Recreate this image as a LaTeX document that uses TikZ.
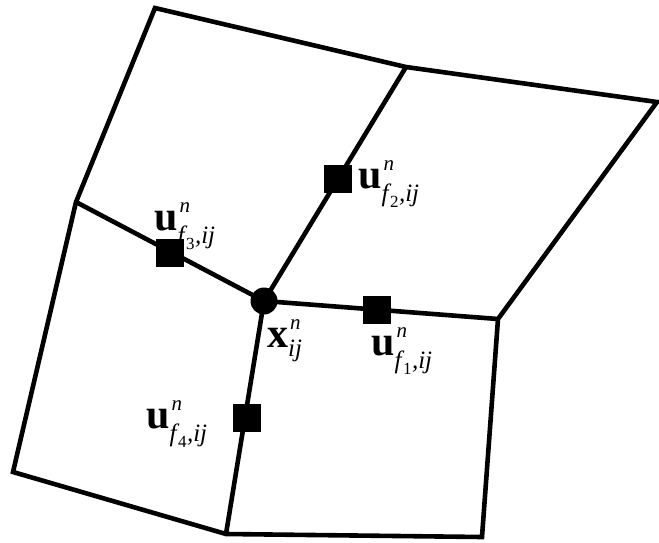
\documentclass[tikz,border=0pt]{standalone}
\usepackage{fontspec}
\setmainfont{Liberation Serif}
\newcommand{\ulab}[1]{\fontsize{42}{42}\selectfont\textbf{u}\rlap{\raisebox{18pt}{\fontsize{21}{21}\selectfont\itshape \kern2pt n}}\raisebox{-13pt}{\fontsize{25}{25}\selectfont\itshape f\kern1.5pt\raisebox{-6pt}{\fontsize{17}{17}\selectfont\upshape #1}\kern0.5pt,ij}}
\newcommand{\xlab}{\fontsize{42}{42}\selectfont\textbf{x}\rlap{\raisebox{18pt}{\fontsize{21}{21}\selectfont\itshape \kern2pt n}}\raisebox{-9pt}{\fontsize{25}{25}\selectfont\itshape ij}}
\tikzset{
  edge/.style={line width=4.6pt, line join=miter},
  facebox/.style={fill=black, minimum size=28pt, inner sep=0pt, outer sep=0pt},
  nodedot/.style={circle, fill=black, minimum size=27pt, inner sep=0pt, outer sep=0pt},
  lab/.style={inner sep=0pt, anchor=base west}
}
\begin{document}
\begin{tikzpicture}[x=1pt,y=-1pt]
\useasboundingbox (0,0) rectangle (659,543);
\coordinate (A) at (155,8);
\coordinate (B) at (406,67);
\coordinate (C) at (657,102);
\coordinate (D) at (76,202);
\coordinate (O) at (264,301);
\coordinate (F) at (498,319);
\coordinate (E) at (13,472);
\coordinate (H) at (226,534);
\coordinate (G) at (482,537);
\draw[edge] (D) -- (A) -- (B) -- (C) -- (F) -- (G) -- (H) -- (E) -- cycle;
\draw[edge] (O) -- (B);
\draw[edge] (O) -- (D);
\draw[edge] (O) -- (F);
\draw[edge] (O) -- (H);
\node[facebox] (s2) at (338,179) {};
\node[facebox] (s1) at (377,310) {};
\node[facebox] (s3) at (170,253) {};
\node[facebox] (s4) at (247,418) {};
\node[nodedot] (o) at (O) {};
\node[lab] (l2) at (358,188) {\ulab{2}};
\node[lab] (l1) at (371,355) {\ulab{1}};
\node[lab] (l3) at (154,230) {\ulab{3}};
\node[lab] (l4) at (146,428) {\ulab{4}};
\node[lab] (lx) at (267,347) {\xlab};
\end{tikzpicture}
\end{document}
